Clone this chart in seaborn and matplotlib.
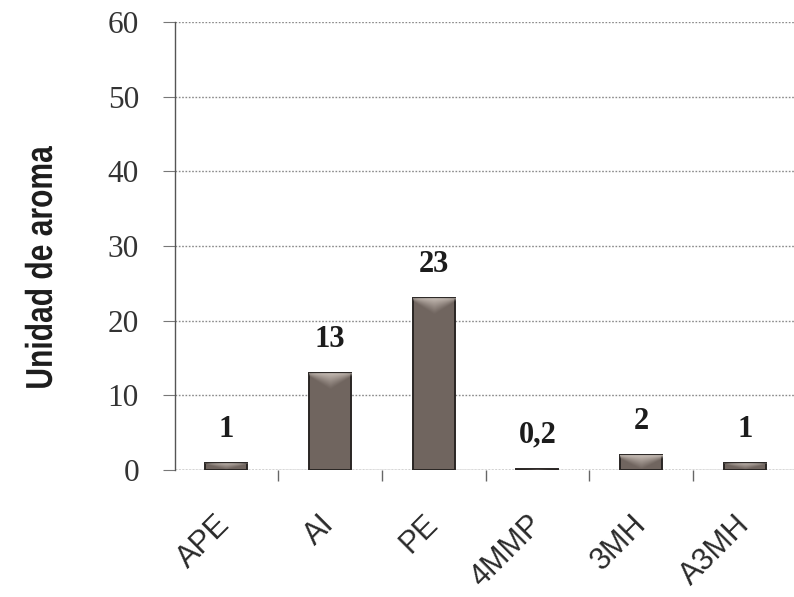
import numpy as np
import pandas as pd
import matplotlib
matplotlib.use("Agg")
import matplotlib.pyplot as plt
import seaborn as sns
from matplotlib.patheffects import AbstractPathEffect
from matplotlib.transforms import Affine2D

# Aroma units per compound
compounds = ["APE", "AI", "PE", "4MMP", "3MH", "A3MH"]
aroma_units = [1, 13, 23, 0.2, 2, 1]
y_ticks = [0, 10, 20, 30, 40, 50, 60]


class Narrow(AbstractPathEffect):
    """Draw text glyphs horizontally compressed about their centre."""

    def __init__(self, factor):
        super().__init__()
        self.factor = factor

    def draw_path(self, renderer, gc, tpath, affine, rgbFace=None):
        ext = tpath.get_extents()
        cx = 0.5 * (ext.x0 + ext.x1)
        squeeze = Affine2D().translate(-cx, 0).scale(self.factor, 1).translate(cx, 0)
        renderer.draw_path(gc, tpath, squeeze + affine, rgbFace)


df = pd.DataFrame({"compuesto": compounds, "unidad": aroma_units})

sns.set_theme(style="white")
plt.rcParams["font.family"] = ["Liberation Serif", "DejaVu Serif"]

fig = plt.figure(figsize=(7.94, 5.97), dpi=100)
ax = fig.add_axes([0.2204, 0.2127, 0.7796, 0.7504])

body = "#70655f"
sns.barplot(data=df, x="compuesto", y="unidad", order=compounds,
            color=body, width=0.405, edgecolor="#2a2624", linewidth=1.4,
            saturation=1, ax=ax, zorder=3)

# V-shaped sheen at the top of every bar
ny, nx = 64, 32
v = np.linspace(0, 1, ny)[:, None]
u = np.linspace(0, 1, nx)[None, :]
depth = 1 - 1.5 * np.abs(u - 0.5)
alpha = np.clip(1 - v / depth, 0, 1) ** 1.2 * 0.85
sheen = np.zeros((ny, nx, 4))
sheen[..., 0], sheen[..., 1], sheen[..., 2] = 0.86, 0.82, 0.79
sheen[..., 3] = alpha
for patch in ax.patches:
    x0, w, h = patch.get_x(), patch.get_width(), patch.get_height()
    if h <= 0:
        continue
    cap = min(h, 2.3)
    im = ax.imshow(sheen, extent=(x0, x0 + w, h - cap, h), origin="upper",
                   aspect="auto", zorder=4, interpolation="bilinear")
    im.set_clip_path(patch)

# value labels above bars
for patch, val in zip(ax.patches, aroma_units):
    txt = f"{val:g}".replace(".", ",")
    ax.annotate(txt, (patch.get_x() + patch.get_width() / 2, val),
                xytext=(0, 24), textcoords="offset points",
                ha="center", va="center", fontsize=22, fontweight="bold",
                color="#1c1c1c", zorder=5)

ax.set_xlim(-0.49, 5.47)
ax.set_ylim(0, 60)
ax.set_yticks(y_ticks)
ax.set_yticklabels([str(t) for t in y_ticks], fontsize=22.5, color="#333333")
ax.tick_params(axis="y", which="major", direction="out", length=9,
               width=0.8, color="#777777", pad=17, left=True)

# category labels, with tick marks between the categories
ax.set_xticks(range(len(compounds)))
ax.set_xticklabels(compounds, rotation=45, ha="right", va="center",
                   rotation_mode="anchor", fontsize=22, color="#2a2a2a",
                   family=["Liberation Sans", "DejaVu Sans"])
ax.tick_params(axis="x", which="major", length=0, pad=36)
ax.set_xticks(np.arange(0.5, len(compounds) - 0.5, 1.0), minor=True)
ax.tick_params(axis="x", which="minor", direction="out", length=8,
               width=1.0, color="#666666", bottom=True)

ax.set_xlabel("")
ax.set_ylabel("Unidad de aroma", fontsize=27, fontweight="bold",
              family=["Liberation Sans", "DejaVu Sans"], color="#1e1e1e")
ax.yaxis.label.set_va("center")
ax.yaxis.label.set_path_effects([Narrow(0.8)])
ax.yaxis.set_label_coords(-0.215, 0.45)

ax.grid(axis="y", linestyle=(0, (1.2, 1.2)), color="#8a8a8a", linewidth=1.0,
        zorder=0)
ax.set_axisbelow(True)
for side in ["top", "right", "bottom"]:
    ax.spines[side].set_visible(False)
ax.spines["left"].set_color("#555555")
ax.spines["left"].set_linewidth(1.0)
ax.spines["left"].set_linestyle((0, (2, 1)))
ax.axhline(0, color="#777777", linewidth=1.0, linestyle=(0, (1.5, 1)), zorder=2)

fig.savefig("out.png", dpi=100)
